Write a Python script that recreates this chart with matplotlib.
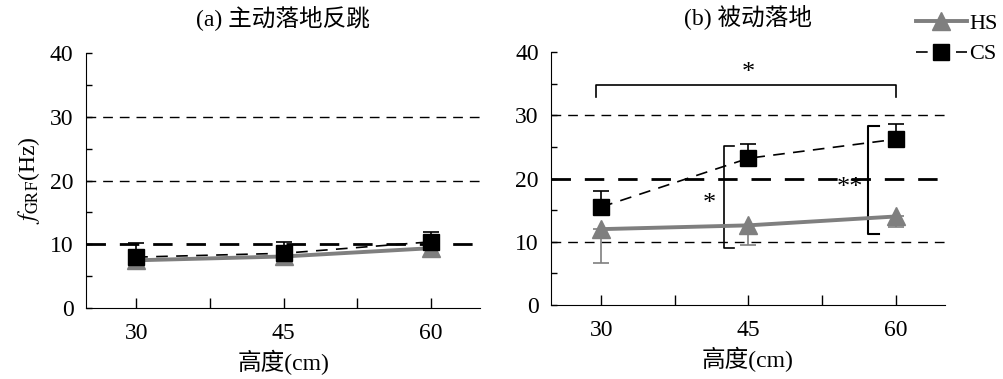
import numpy as np
import matplotlib
matplotlib.use('Agg')
import matplotlib.pyplot as plt
from matplotlib.ticker import MultipleLocator, FixedLocator

plt.rcParams['font.family'] = ['Liberation Serif', 'Noto Sans CJK SC']
plt.rcParams['mathtext.fontset'] = 'stix'

heights = [30, 45, 60]
titles = ['(a) 主动落地反跳', '(b) 被动落地']

# panel (a) active landing-rebound
hs_a = [7.5, 8.1, 9.4]
hs_a_err = [1.4, 1.2, 1.4]      # downward error
cs_a = [8.0, 8.6, 10.4]
cs_a_err = [2.2, 1.8, 1.5]      # upward error

# panel (b) passive landing
hs_b = [12.0, 12.6, 14.0]
hs_b_err = [5.4, 3.1, 1.7]
cs_b = [15.5, 23.2, 26.2]
cs_b_err = [2.5, 2.2, 2.4]

gray = '#7f7f7f'


def panel(ax, hs, hs_err, cs, cs_err, bold_y, title):
	for yv in [10, 20, 30]:
		lw = 2.0 if yv == bold_y else 1.0
		ax.axhline(yv, color='k', lw=lw, ls=(0, (7, 5)), zorder=1)
	ax.errorbar(heights, hs, yerr=[hs_err, [0]*3], fmt='none', ecolor=gray,
	            elinewidth=1.2, capsize=6, capthick=1.2, zorder=2)
	ax.errorbar(heights, cs, yerr=[[0]*3, cs_err], fmt='none', ecolor='k',
	            elinewidth=1.2, capsize=6, capthick=1.2, zorder=2)
	ax.plot(heights, hs, color=gray, lw=2.8, marker='^', ms=13, mfc=gray,
	        mec=gray, label='HS', zorder=3)
	ax.plot(heights, cs, color='k', lw=1.2, ls=(0, (7, 5)), marker='s', ms=11,
	        mfc='k', mec='k', label='CS', zorder=4)
	ax.set_xlim(24.9, 65.0)
	ax.set_ylim(0, 40)
	ax.set_xticks(heights)
	ax.xaxis.set_minor_locator(FixedLocator([37.5, 52.5]))
	ax.yaxis.set_major_locator(MultipleLocator(10))
	ax.yaxis.set_minor_locator(MultipleLocator(5))
	ax.tick_params(axis='x', which='both', direction='in', length=7, width=1, labelsize=17, pad=11)
	ax.tick_params(axis='y', which='both', direction='in', length=4, width=1, labelsize=17, pad=9)
	ax.spines['top'].set_visible(False)
	ax.spines['right'].set_visible(False)
	ax.set_title(title, fontsize=17, pad=20)
	ax.set_xlabel('高度(cm)', fontsize=17, labelpad=4)


fig = plt.figure(figsize=(10.04, 3.79), dpi=100)
ax1 = fig.add_axes([0.0857, 0.187, 0.3925, 0.673])
ax2 = fig.add_axes([0.549, 0.195, 0.392, 0.668])

panel(ax1, hs_a, hs_a_err, cs_a, cs_a_err, 10, titles[0])
panel(ax2, hs_b, hs_b_err, cs_b, cs_b_err, 20, titles[1])
ax1.set_ylabel(r'$f_{\rm GRF}$(Hz)', fontsize=17, labelpad=6)

# significance brackets
ax2.plot([29.5, 29.5, 60, 60], [32.9, 34.8, 34.8, 32.9], color='k', lw=1.2)
ax2.text(45, 35.0, '*', ha='center', va='bottom', fontsize=19)
ax2.plot([43.5, 42.5, 42.5, 43.5], [25.1, 25.1, 9.0, 9.0], color='k', lw=1.2)
ax2.text(41.0, 16.0, '*', ha='center', va='center', fontsize=19)
ax2.plot([58.3, 57.2, 57.2, 58.3], [28.3, 28.3, 11.2, 11.2], color='k', lw=1.5)
ax2.text(55.3, 18.5, '**', ha='center', va='center', fontsize=19)

ax2.legend(loc='upper left', bbox_to_anchor=(0.912, 0.965), bbox_transform=fig.transFigure,
           frameon=False, fontsize=16, handlelength=2.3, handletextpad=0.1,
           labelspacing=0.45, borderaxespad=0.0, borderpad=0.0)

fig.savefig('out.png', dpi=100)
